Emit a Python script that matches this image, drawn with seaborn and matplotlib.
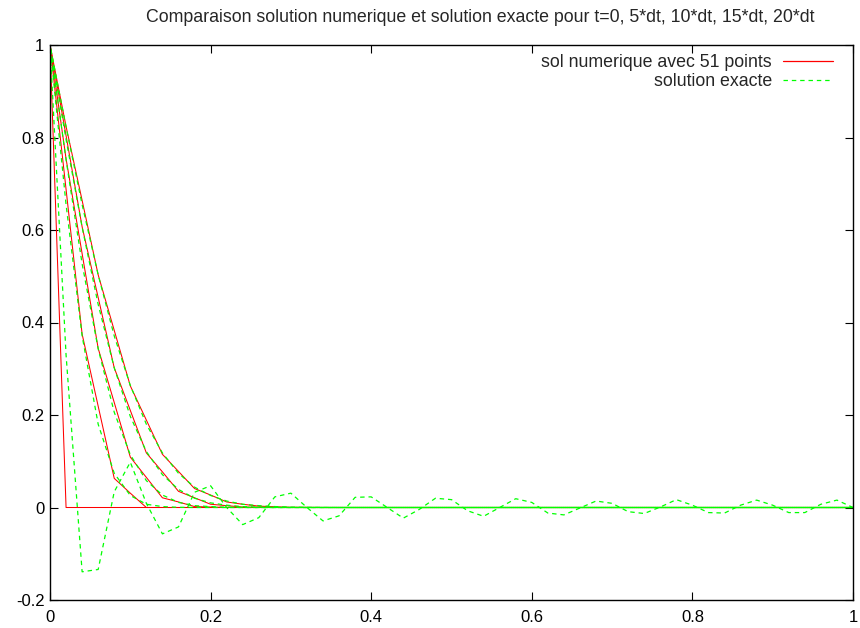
import numpy as np
import pandas as pd
import matplotlib
matplotlib.use("Agg")
import matplotlib.pyplot as plt
from matplotlib.lines import Line2D
import matplotlib.colors as mcolors
import seaborn as sns

# ---- data -------------------------------------------------------------
N_POINTS = 51
x = np.linspace(0.0, 1.0, N_POINTS)

def padded(vals):
    """Values beyond the listed ones are zero."""
    return list(vals) + [0.0] * (N_POINTS - len(vals))

# numerical solution (red) at t = 0, 5dt, 10dt, 15dt, 20dt
num_t0 = padded([1.0])
num_t5 = padded([1.0, 0.688, 0.375, 0.219, 0.063, 0.031])
num_t10 = padded([1.0, 0.754, 0.549, 0.344, 0.227, 0.109, 0.065, 0.021, 0.012, 0.002, 0.001])
num_t15 = padded([1.0, 0.804, 0.607, 0.454, 0.302, 0.210, 0.118, 0.077, 0.035, 0.021,
                  0.007, 0.004, 0.001, 0.0005])
num_t20 = padded([1.0, 0.824, 0.664, 0.503, 0.383, 0.263, 0.189, 0.115, 0.078, 0.041,
                  0.027, 0.012, 0.007, 0.003, 0.0015, 0.0004, 0.0002])

# exact solution (green, dashed)
ex_t0 = [1.0, 0.33, -0.139, -0.134, 0.034, 0.098, 0.009, -0.057, -0.042, 0.033,
         0.047, 0.0, -0.037, -0.022, 0.023, 0.031, 0.0, -0.029, -0.018, 0.022,
         0.023, 0.0, -0.023, -0.004, 0.020, 0.017, -0.007, -0.019, 0.0, 0.019,
         0.011, -0.012, -0.016, -0.001, 0.014, 0.009, -0.009, -0.013, 0.001, 0.017,
         0.005, -0.011, -0.012, 0.005, 0.016, 0.005, -0.011, -0.011, 0.007, 0.016,
         0.0]
ex_t5 = padded([1.0, 0.655, 0.371, 0.180, 0.074, 0.026, 0.007, 0.002, 0.0004])
ex_t10 = padded([1.0, 0.752, 0.527, 0.343, 0.206, 0.114, 0.058, 0.027, 0.011, 0.004,
                 0.002, 0.0005, 0.0001])
ex_t15 = padded([1.0, 0.796, 0.606, 0.439, 0.302, 0.197, 0.121, 0.071, 0.039, 0.020,
                 0.010, 0.005, 0.002, 0.0008, 0.0003, 0.0001])
ex_t20 = padded([1.0, 0.823, 0.655, 0.503, 0.371, 0.264, 0.180, 0.118, 0.074, 0.044,
                 0.026, 0.014, 0.007, 0.004, 0.002, 0.0008, 0.0004, 0.0002])

time_labels = ["0", "5*dt", "10*dt", "15*dt", "20*dt"]
numeric = [num_t0, num_t5, num_t10, num_t15, num_t20]
exact = [ex_t0, ex_t5, ex_t10, ex_t15, ex_t20]

legend_labels = ["sol numerique avec 51 points", "solution exacte"]
title = "Comparaison solution numerique et solution exacte pour t=0, 5*dt, 10*dt, 15*dt, 20*dt"
xticks = [0.0, 0.2, 0.4, 0.6, 0.8, 1.0]
xtick_labels = ["0", "0.2", "0.4", "0.6", "0.8", "1"]
yticks = [-0.2, 0.0, 0.2, 0.4, 0.6, 0.8, 1.0]
ytick_labels = ["-0.2", "0", "0.2", "0.4", "0.6", "0.8", "1"]

rows = []
for lab, nv, ev in zip(time_labels, numeric, exact):
    for xi, v in zip(x, nv):
        rows.append({"x": xi, "u": v, "t": lab, "kind": "num"})
    for xi, v in zip(x, ev):
        rows.append({"x": xi, "u": v, "t": lab, "kind": "exact"})
df = pd.DataFrame(rows)

# ---- style ------------------------------------------------------------
sns.set_style("ticks")
plt.rcParams["font.family"] = ["Liberation Sans", "DejaVu Sans"]
plt.rcParams["lines.scale_dashes"] = False

RED = "#ff0000"
GREEN = "#00ff00"
DASH = (3.2, 2.8)
PERIOD = sum(DASH)
LW_NUM = 0.75
LW_EX = 0.9
DPI = 100

fig = plt.figure(figsize=(8.6, 6.28), dpi=DPI)
ax = fig.add_axes([50 / 860, 1 - 600 / 628, 803 / 860, 555 / 628])

sns.lineplot(
    data=df, x="x", y="u", hue="kind", style="kind", units="t", estimator=None,
    hue_order=["num", "exact"], style_order=["num", "exact"],
    palette={"num": RED, "exact": GREEN},
    dashes={"num": "", "exact": DASH},
    linewidth=LW_NUM, sort=False, legend=False, ax=ax,
)

ax.set_xlim(0, 1)
ax.set_ylim(-0.2, 1)

# exact curves sit on top of the numerical ones.  Where several of them run
# together along u = 0 their dash phases are spread evenly over one period,
# so the dashes fill each other's gaps there.
green_rgba = mcolors.to_rgba(GREEN)
greens = [ln for ln in ax.get_lines() if mcolors.to_rgba(ln.get_color()) == green_rgba]
for ln in ax.get_lines():
    ln.set_zorder(2)
settled = [ln for ln in greens if np.all(np.asarray(ln.get_ydata())[-10:] == 0)]
for k, ln in enumerate(settled):
    pts = ax.transData.transform(np.column_stack([ln.get_xdata(), ln.get_ydata()]))
    length_pt = np.hypot(*np.diff(pts, axis=0).T).sum() * 72.0 / DPI
    offset = (k * PERIOD / len(settled) - length_pt) % PERIOD
    ln.set_linestyle((offset, DASH))
for ln in greens:
    ln.set_zorder(3)
    ln.set_linewidth(LW_EX)

ax.set_xticks(xticks)
ax.set_xticklabels(xtick_labels)
ax.set_yticks(yticks)
ax.set_yticklabels(ytick_labels)
ax.set_xlabel("")
ax.set_ylabel("")
ax.tick_params(direction="in", length=6, width=0.8, top=True, right=True,
               labelsize=12, colors="black")
ax.tick_params(axis="x", pad=7)
ax.tick_params(axis="y", pad=4)
for sp in ax.spines.values():
    sp.set_visible(True)
    sp.set_linewidth(1.0)
    sp.set_color("black")
    sp.set_zorder(4)

handles = [Line2D([], [], color=RED, lw=0.9),
           Line2D([], [], color=GREEN, lw=LW_EX, dashes=DASH)]
ax.legend(handles, legend_labels, loc="upper right",
          bbox_to_anchor=(1 - 20 / 803, 1 - 9 / 555), borderaxespad=0, borderpad=0,
          frameon=False, markerfirst=False, handlelength=2.8, handletextpad=0.63,
          labelspacing=0.1, fontsize=12.8)

fig.text(480 / 860, 1 - 18 / 628, title, ha="center", va="center", fontsize=12.8)

fig.savefig("out.png", dpi=DPI, facecolor="white")
